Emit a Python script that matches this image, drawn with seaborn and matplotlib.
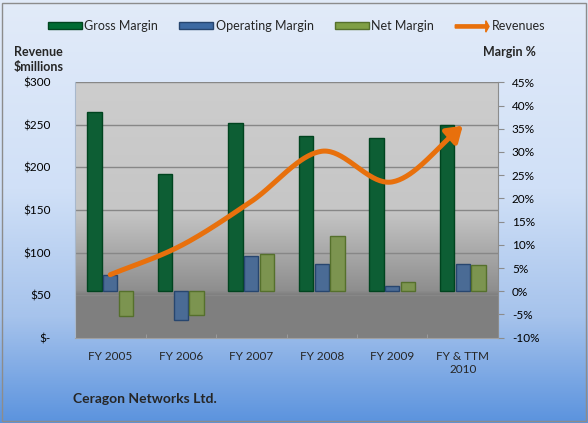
import numpy as np
import pandas as pd
import matplotlib
matplotlib.use("Agg")
import matplotlib.pyplot as plt
import matplotlib.patches as mpatches
from matplotlib.colors import LinearSegmentedColormap
from matplotlib.legend_handler import HandlerPatch
from matplotlib.transforms import blended_transform_factory
import seaborn as sns

# data
years = ["FY 2005", "FY 2006", "FY 2007", "FY 2008", "FY 2009", "FY & TTM\n2010"]
gross_margin = [38.6, 25.3, 36.3, 33.4, 33.0, 35.9]
operating_margin = [3.4, -6.1, 7.6, 5.8, 1.2, 5.9]
net_margin = [-5.4, -5.2, 8.0, 11.9, 1.9, 5.6]
revenues = [74, 108, 160, 219, 183, 249]

series_names = ["Gross Margin", "Operating Margin", "Net Margin"]
bar_colors = ["#006b33", "#3d6aa2", "#7f9f45"]
edge_colors = ["#00441f", "#27466f", "#55702c"]
line_color = "#e8700c"

df = pd.DataFrame({
    "year": years * 3,
    "metric": sum([[n] * len(years) for n in series_names], []),
    "margin": gross_margin + operating_margin + net_margin,
})

sns.set_style("white")
plt.rcParams["font.family"] = ["Lato", "DejaVu Sans"]

fig = plt.figure(figsize=(5.88, 4.23), dpi=100)

# figure background gradient
bg = fig.add_axes([0, 0, 1, 1], zorder=-10)
bg_cmap = LinearSegmentedColormap.from_list(
    "bg", [(0, "#5b93de"), (0.25, "#a6c3ec"), (0.55, "#d0e0f7"), (1, "#e2ebf9")])
bg.imshow(np.linspace(0, 1, 256).reshape(-1, 1), aspect="auto", cmap=bg_cmap,
          origin="lower", extent=[0, 1, 0, 1])
bg.set_axis_off()
fig.add_artist(mpatches.Rectangle((0.003, 0.004), 0.994, 0.99, transform=fig.transFigure,
                                  fill=False, edgecolor="#8c8c8c", lw=1))

ax = fig.add_axes([75 / 588, 1 - 337.7 / 423, 423 / 588, 255.4 / 423])
ax2 = ax.twinx()

# plot area gradient (in margin % units)
ax.set_ylim(-10, 45)
ax.set_xlim(-0.5, len(years) - 0.5)
pa_cmap = LinearSegmentedColormap.from_list(
    "pa", [(0, "#7f7f7f"), (0.17, "#808080"), (0.185, "#8e8e8e"), (0.5, "#c6c6c6"), (1, "#cdcdcd")])
ax.imshow(np.linspace(0, 1, 256).reshape(-1, 1), aspect="auto", cmap=pa_cmap,
          origin="lower", extent=[-0.5, len(years) - 0.5, -10, 45], zorder=0)
ax.patch.set_visible(False)

# gridlines at the revenue ticks, drawn behind the bars
ax2.set_ylim(0, 300)
rev_ticks = [0, 50, 100, 150, 200, 250, 300]
grid_tr = blended_transform_factory(ax.transAxes, ax2.transData)
for v in rev_ticks[1:]:
    ax.plot([0, 1], [v, v], transform=grid_tr, color="#878787", lw=1, zorder=0.5)

sns.barplot(data=df, x="year", y="margin", hue="metric", hue_order=series_names,
            palette=bar_colors, width=0.67, gap=0.08, errorbar=None, legend=False,
            ax=ax, zorder=2, linewidth=1)
for i, cont in enumerate(ax.containers):
    for b in cont:
        b.set_edgecolor(edge_colors[i])
ax.set_xlim(-0.5, len(years) - 0.5)
ax.set_ylim(-10, 45)


# smoothed revenue line (Catmull-Rom through the data points)
def catmull_rom(xs, ys, n=40):
    p = np.column_stack([xs, ys]).astype(float)
    p = np.vstack([2 * p[0] - p[1], p, 2 * p[-1] - p[-2]])
    out = []
    for i in range(1, len(p) - 2):
        p0, p1, p2, p3 = p[i - 1], p[i], p[i + 1], p[i + 2]
        t = np.linspace(0, 1, n, endpoint=False)[:, None]
        out.append(0.5 * ((2 * p1) + (-p0 + p2) * t + (2 * p0 - 5 * p1 + 4 * p2 - p3) * t ** 2
                          + (-p0 + 3 * p1 - 3 * p2 + p3) * t ** 3))
    out.append(p[-2][None, :])
    return np.vstack(out)


xr = np.arange(len(years))
curve = catmull_rom(xr, revenues)
cut = len(curve) - 8
ax2.plot(curve[:cut + 1, 0], curve[:cut + 1, 1], color=line_color, lw=3.6,
         solid_capstyle="round", zorder=5)
ax2.annotate("", xy=(xr[-1], revenues[-1]), xytext=(curve[cut, 0], curve[cut, 1]),
             arrowprops=dict(arrowstyle="-|>,head_length=0.6,head_width=0.4", color=line_color,
                             lw=3.6, shrinkA=0, shrinkB=0, mutation_scale=15), zorder=6)

# axes: percent on the right, dollars on the left
ax.yaxis.tick_right()
ax.set_yticks(range(-10, 50, 5))
ax.set_yticklabels([f"{v}%" for v in range(-10, 50, 5)])
ax2.yaxis.tick_left()
ax2.set_yticks(rev_ticks)
ax2.set_yticklabels(["$-"] + [f"${v}" for v in rev_ticks[1:]])
ax.set_xlabel("")
ax.set_ylabel("")
ax2.set_ylabel("")
ax.tick_params(axis="y", right=True, left=False, length=4, color="#8c8c8c", labelsize=8.5,
               pad=6, labelcolor="black")
ax2.tick_params(axis="y", left=False, right=False, labelsize=8.5, pad=14, labelcolor="black")
ax.tick_params(axis="x", bottom=False, labelsize=8.5, pad=6)
ax.set_xticks(xr)
ax.set_xticklabels(years)
ax.set_xticks(np.arange(-0.5, len(years), 1), minor=True)
ax.tick_params(axis="x", which="minor", bottom=True, direction="in", length=3, color="#a0a0a0")

for a in (ax, ax2):
    for s in a.spines.values():
        s.set_visible(False)
ax2.spines["right"].set_visible(True)
ax2.spines["right"].set_color("#8c8c8c")
ax2.spines["left"].set_visible(True)
ax2.spines["left"].set_color("#a8b8cc")
ax2.spines["bottom"].set_visible(True)
ax2.spines["bottom"].set_color("#a0a0a0")


# legend with an arrow for the revenue line
def make_arrow(legend, orig_handle, xdescent, ydescent, width, height, fontsize):
    return mpatches.FancyArrow(0, 0.5 * height, width, 0, length_includes_head=True,
                               width=0.45 * height, head_width=1.6 * height,
                               head_length=0.45 * height, color=line_color)


handles = [mpatches.Patch(facecolor=c, edgecolor=e, label=n)
           for n, c, e in zip(series_names, bar_colors, edge_colors)]
arrow_handle = mpatches.FancyArrow(0, 0, 1, 0, color=line_color, label="Revenues")
handles.append(arrow_handle)
fig.legend(handles=handles, loc="center", bbox_to_anchor=(296.5 / 588, 1 - 26 / 423), ncol=4,
           frameon=False, fontsize=9, handlelength=2.7, handleheight=0.5, handletextpad=0.2,
           columnspacing=1.7, borderpad=0.2,
           handler_map={mpatches.FancyArrow: HandlerPatch(patch_func=make_arrow)})

fig.text(14 / 588, 1 - 51.7 / 423, "Revenue", fontsize=9, fontweight="bold", va="center", ha="left")
fig.text(14 / 588, 1 - 67 / 423, "$millions", fontsize=9, fontweight="bold", va="center", ha="left")
fig.text(536 / 588, 1 - 51.7 / 423, "Margin %", fontsize=9, fontweight="bold", va="center", ha="right")
fig.text(73 / 588, 1 - 399 / 423, "Ceragon Networks Ltd.", fontsize=10, fontweight="bold",
         va="center", ha="left")

fig.savefig("out.png", dpi=100)
